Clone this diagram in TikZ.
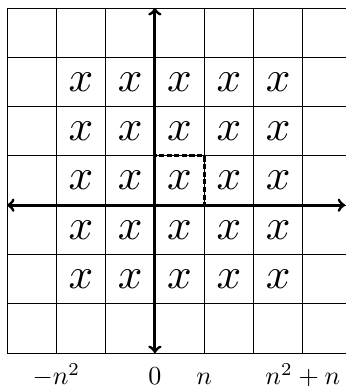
\documentclass[tikz,border=0pt]{standalone}
\begin{document}
\begin{tikzpicture}[
		axis/.style={line width=1.7pt, ->},
		cellmark/.style={scale=2.49, transform shape},
		ticklabel/.style={scale=1.5, transform shape, anchor=base},
		box/.style={line width=1.7pt, dash pattern=on 3pt off 1.4pt}]
		\useasboundingbox (-0.142,-0.708) rectangle (6.876,7.162);

		% grid, cut off on the right
		\begin{scope}
			\clip (-0.142,-0.708) rectangle (6.876,7.162);
			\draw[line width=0.5pt] (0,0) grid (7,7);
		\end{scope}

		\foreach \i in {1,...,5}
			\foreach \j in {1,...,5}
				\node[cellmark] (x-\i-\j) at (\i+0.5,\j+0.5) {$x$};

		\draw[box] (3,3) rectangle (4,4);

		\coordinate (west) at (0,3);
		\coordinate (east) at (6.86,3);
		\coordinate (north) at (3,7);
		\coordinate (south) at (3,0);
		\draw[axis] (3,3) -- (east);
		\draw[axis] (3,3) -- (west);
		\draw[axis] (3,3) -- (north);
		\draw[axis] (3,3) -- (south);

		\node[ticklabel] (lab-neg) at (1,-0.647) {$-n^2$};
		\node[ticklabel] (lab-zero) at (3,-0.647) {$0$};
		\node[ticklabel] (lab-n) at (4,-0.647) {$n$};
		\node[ticklabel] (lab-pos) at (6,-0.647) {$n^2+n$};
	\end{tikzpicture}
\end{document}
